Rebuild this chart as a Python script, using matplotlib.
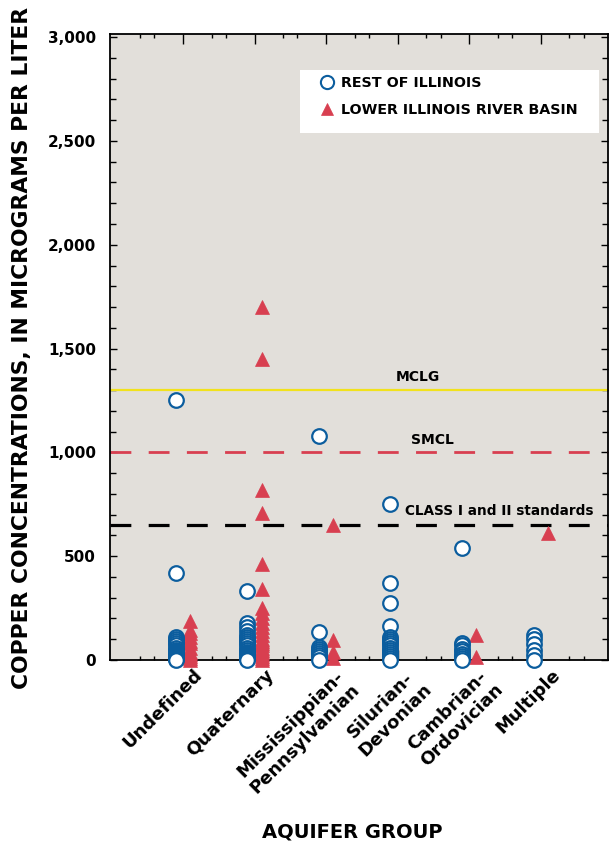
import matplotlib
matplotlib.use("Agg")
import matplotlib.pyplot as plt
from matplotlib.lines import Line2D
from matplotlib.patches import Rectangle
from matplotlib.transforms import ScaledTranslation
from matplotlib.ticker import MultipleLocator, FixedLocator, FuncFormatter

categories = ["Undefined", "Quaternary", "Mississippian-\nPennsylvanian",
              "Silurian-\nDevonian", "Cambrian-\nOrdovician", "Multiple"]

rest_of_illinois = [
    [1250, 420, 110, 100, 90, 80, 70, 60, 50, 45, 40, 35, 30, 25, 20, 15, 10, 5, 0],
    [330, 180, 160, 140, 120, 110, 100, 90, 80, 70, 60, 50, 40, 35, 30, 25, 20, 15, 10, 5, 0],
    [1080, 135, 65, 55, 45, 35, 25, 15, 0],
    [750, 370, 275, 165, 110, 100, 90, 80, 70, 60, 50, 40, 30, 20, 10, 0],
    [540, 80, 70, 55, 45, 30, 20, 10, 0],
    [120, 100, 75, 50, 25, 0],
]
lower_illinois = [
    [190, 145, 130, 110, 90, 80, 60, 40, 30, 20, 10, 0],
    [1700, 1450, 820, 710, 460, 340, 250, 225, 200, 180, 160, 140, 120, 100, 90,
     80, 70, 60, 50, 40, 30, 20, 10, 0],
    [650, 95, 40, 10],
    [],
    [120, 15],
    [610],
]

standards = [1300, 1000, 650]
standard_names = ["MCLG", "SMCL", "CLASS I and II standards"]

plt.rcParams['font.family'] = ['DejaVu Sans']
plt.rcParams['font.weight'] = 'bold'
plt.rcParams['lines.scale_dashes'] = False

blue = "#0b5d9e"
red = "#d83f50"
bg = "#e2dfda"

fig = plt.figure(figsize=(6.10, 8.42), dpi=100)
ax = fig.add_axes([110/610, (842-660)/842, (608-110)/610, (660-34)/842])
ax.set_facecolor(bg)

for i, (vals_b, vals_r) in enumerate(zip(rest_of_illinois, lower_illinois)):
    pos = i + 1
    if vals_r:
        ax.plot([pos + 0.1] * len(vals_r), vals_r, linestyle="none", marker="^",
                markersize=10, markerfacecolor=red, markeredgecolor=red,
                markeredgewidth=0.5, clip_on=False, zorder=4)
    if vals_b:
        ax.plot([pos - 0.1] * len(vals_b), vals_b, linestyle="none", marker="o",
                markersize=10.5, markerfacecolor="white", markeredgecolor=blue,
                markeredgewidth=1.6, clip_on=False, zorder=5)

ax.axhline(standards[0], color="#f2e21c", lw=1.6, zorder=2)
ax.axhline(standards[1], color=red, lw=2.0, dashes=(15, 12.5), zorder=2)
ax.axhline(standards[2], color="black", lw=2.3, dashes=(15, 12.5), zorder=2)

ax.text(4.28, 1365, standard_names[0], ha="center", va="center", fontsize=10, fontweight="bold")
ax.text(4.49, 1061, standard_names[1], ha="center", va="center", fontsize=10, fontweight="bold")
ax.text(4.10, 719, standard_names[2], ha="left", va="center", fontsize=9.8, fontweight="bold")

ax.set_xlim(-0.02, 6.94)
ax.set_ylim(0, 3015)

ax.yaxis.set_major_locator(FixedLocator([0, 500, 1000, 1500, 2000, 2500, 3000]))
ax.yaxis.set_minor_locator(MultipleLocator(100))
ax.yaxis.set_major_formatter(FuncFormatter(lambda v, p: f"{int(v):,}"))
ax.tick_params(axis="y", which="both", direction="in", left=True, right=True,
               labelsize=11, pad=10, width=1)
ax.tick_params(axis="y", which="major", length=5)
ax.tick_params(axis="y", which="minor", length=4)

ax.set_xticks(range(1, len(categories) + 1))
ax.set_xticklabels(categories, rotation=45, ha="right", va="top",
                   rotation_mode="anchor", multialignment="center", fontsize=13)
minor_x = [p + d for p in range(0, 7) for d in (0.4, 0.6) if -0.02 < p + d < 6.94]
ax.xaxis.set_minor_locator(FixedLocator(minor_x))
ax.tick_params(axis="x", which="both", direction="in", top=True, bottom=True, width=1, pad=2)
ax.tick_params(axis="x", which="major", length=7)
ax.tick_params(axis="x", which="minor", length=3)
for lab in ax.get_xticklabels():
    lab.set_fontweight("bold")
    lab.set_transform(lab.get_transform() + ScaledTranslation(10/100, -3/100, fig.dpi_scale_trans))
for lab in ax.get_yticklabels():
    lab.set_fontweight("bold")

for s in ax.spines.values():
    s.set_linewidth(1.3)

fig.text(22/610, 1 - 348/842, "COPPER CONCENTRATIONS, IN MICROGRAMS PER LITER",
         rotation=90, ha="center", va="center", fontsize=15.7, fontweight="bold")
fig.text(352/610, 1 - 832/842, "AQUIFER GROUP", ha="center", va="center",
         fontsize=14, fontweight="bold")

# legend box
ax.add_patch(Rectangle((0.3815, 0.8419), 0.6005, 0.1006, transform=ax.transAxes,
                       facecolor="white", edgecolor="none", zorder=6))
handles = [
    Line2D([], [], linestyle="none", marker="o", markersize=9.5, markerfacecolor="white",
           markeredgecolor=blue, markeredgewidth=1.5),
    Line2D([], [], linestyle="none", marker="^", markersize=9, markerfacecolor=red,
           markeredgecolor=red, markeredgewidth=0.5),
]
leg = ax.legend(handles, ["REST OF ILLINOIS", "LOWER ILLINOIS RIVER BASIN"],
                loc="upper left", bbox_to_anchor=(0.4185, 0.933), frameon=False,
                prop={"size": 10.3, "weight": "bold"}, borderpad=0, labelspacing=0.92,
                handletextpad=0.35, handlelength=1.2, borderaxespad=0)
leg.set_zorder(7)

fig.savefig("out.png", dpi=100)
